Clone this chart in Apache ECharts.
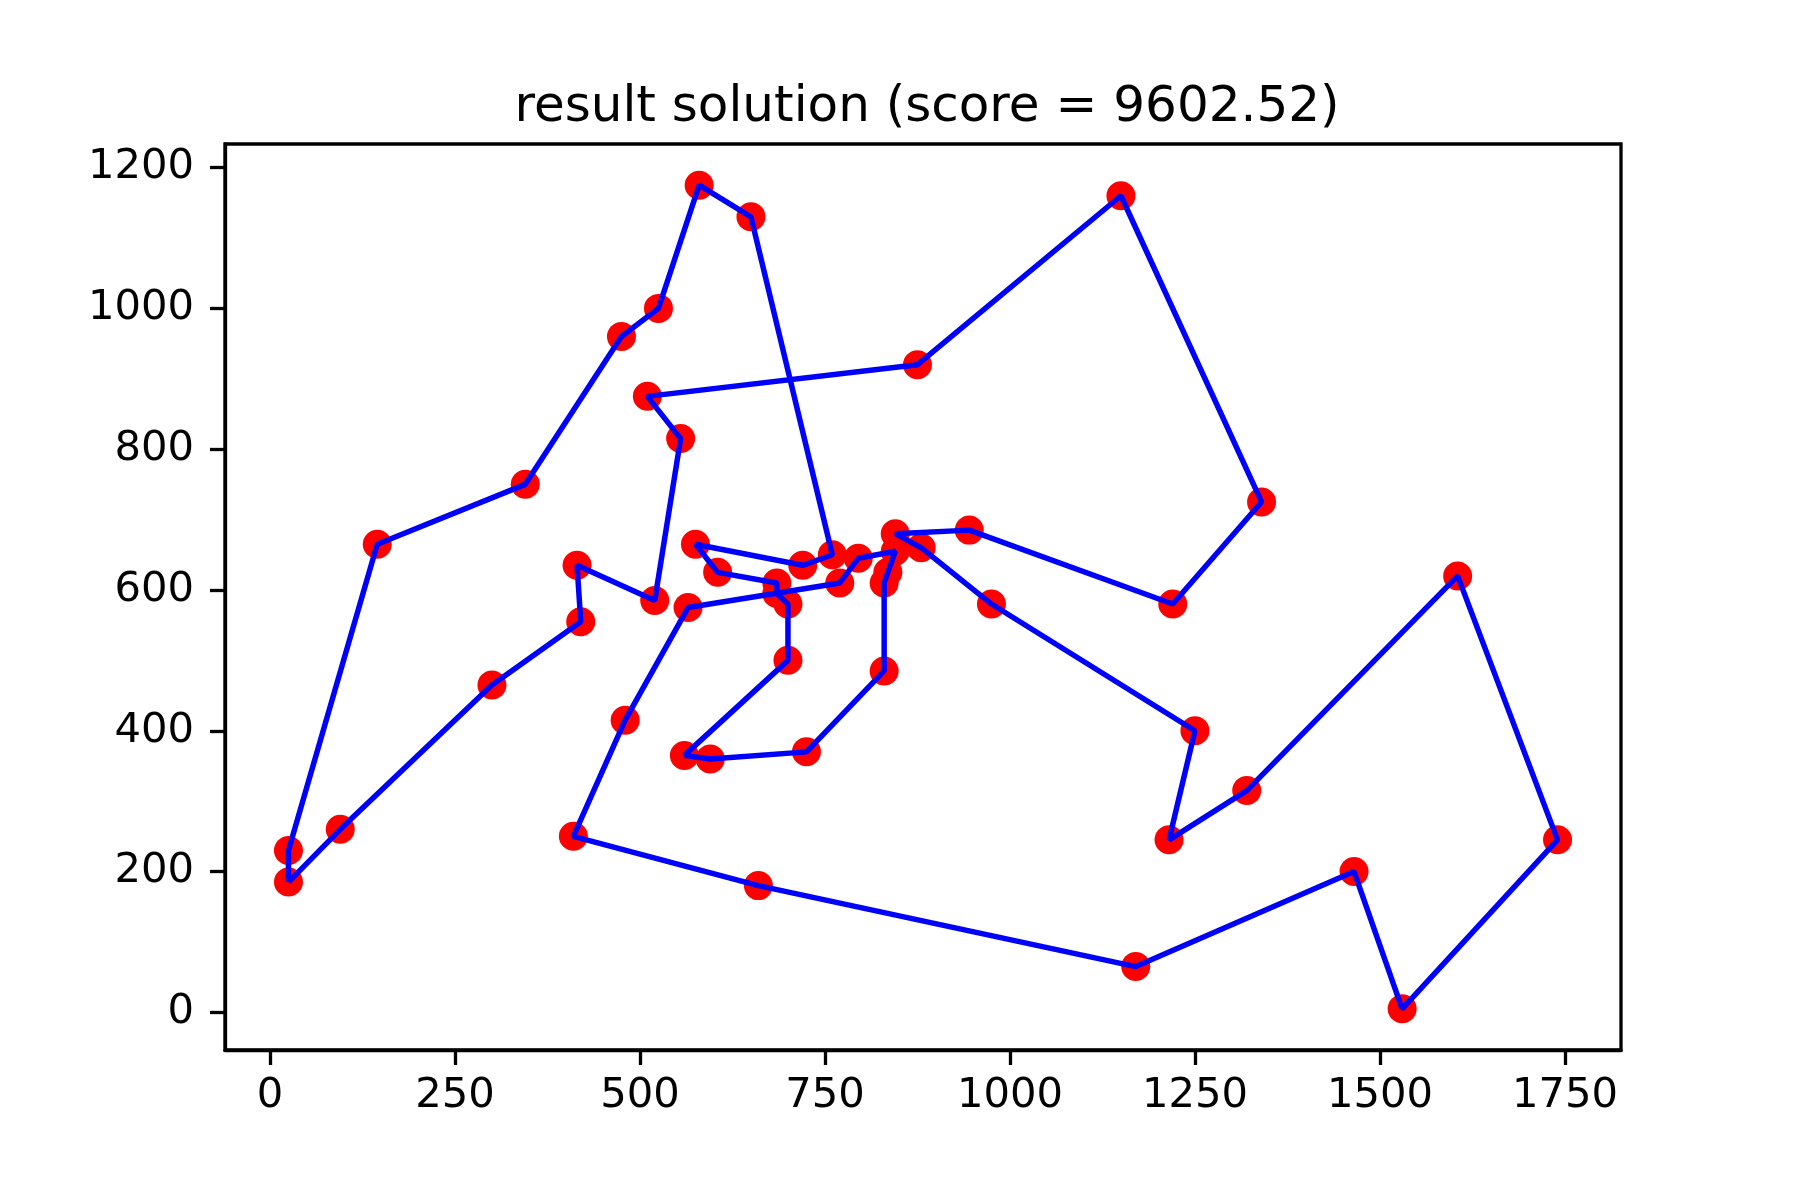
<!DOCTYPE html>
<html>
<head>
<meta charset="utf-8">
<script src="https://cdn.jsdelivr.net/npm/echarts@6/dist/echarts.min.js"></script>
<style>
html,body{margin:0;padding:0;background:#fff;}
#chart{width:1800px;height:1200px;}
</style>
</head>
<body>
<div id="chart"></div>
<script>
// City coordinates (Berlin52-style points)
const cityX = [565,25,345,945,845,880,25,525,580,650,1605,1220,1465,1530,845,725,145,415,510,560,300,520,480,835,975,1215,1320,1250,660,410,420,575,1150,700,685,685,770,795,720,760,475,95,875,700,555,830,1170,830,605,595,1340,1740];
const cityY = [575,185,750,685,655,660,230,1000,1175,1130,620,580,200,5,680,370,665,635,875,365,465,585,415,625,580,245,315,400,180,250,555,665,1160,580,595,610,610,645,635,650,960,260,920,500,815,485,65,610,625,360,725,245];
// Tour order (1-based city ids), closed back to the start
const tour = [2,42,21,31,18,22,45,19,43,33,51,12,4,15,6,25,28,26,27,11,52,14,13,47,29,30,23,1,37,38,5,24,48,46,16,50,20,44,34,35,36,49,32,39,40,10,9,8,41,3,17,7,2];
const xTicks = [0,250,500,750,1000,1250,1500,1750];
const yTicks = [0,200,400,600,800,1000,1200];
const titleText = 'result solution (score = 9602.52)';

const points = cityX.map((x, i) => [x, cityY[i]]);
const path = tour.map(id => [cityX[id - 1], cityY[id - 1]]);

const font = 'DejaVu Sans';
const plain = v => String(v);
const chart = echarts.init(document.getElementById('chart'), null, {renderer: 'canvas'});
chart.setOption({
  backgroundColor: '#fff',
  animation: false,
  title: {
    text: titleText,
    left: 922,
    textAlign: 'center',
    top: 78,
    textStyle: {fontFamily: font, fontSize: 50, fontWeight: 'normal', color: '#000'}
  },
  grid: {
    left: 225, top: 144, width: 1396, height: 906,
    show: true, borderColor: '#000', borderWidth: 3.3, backgroundColor: 'transparent'
  },
  xAxis: {
    type: 'value', min: -60.75, max: 1825.75,
    splitLine: {show: false},
    axisLine: {show: true, onZero: false, lineStyle: {color: '#000', width: 3.3}},
    axisTick: {show: true, length: 15, lineStyle: {color: '#000', width: 3.3}, customValues: xTicks},
    axisLabel: {customValues: xTicks, formatter: plain, margin: 25, fontFamily: font, fontSize: 41.7, color: '#000'}
  },
  yAxis: {
    type: 'value', min: -53.5, max: 1233.5,
    splitLine: {show: false},
    axisLine: {show: true, onZero: false, lineStyle: {color: '#000', width: 3.3}},
    axisTick: {show: true, length: 15, lineStyle: {color: '#000', width: 3.3}, customValues: yTicks},
    axisLabel: {customValues: yTicks, formatter: plain, margin: 31, fontFamily: font, fontSize: 41.7, color: '#000'}
  },
  series: [
    {
      type: 'scatter', data: points, symbol: 'circle', symbolSize: 29,
      itemStyle: {color: '#ff0000', opacity: 1}, z: 2, silent: true
    },
    {
      type: 'line', data: path, symbol: 'none', smooth: false,
      lineStyle: {color: '#0000ff', width: 5.5}, z: 3, silent: true
    }
  ]
});
</script>
</body>
</html>
